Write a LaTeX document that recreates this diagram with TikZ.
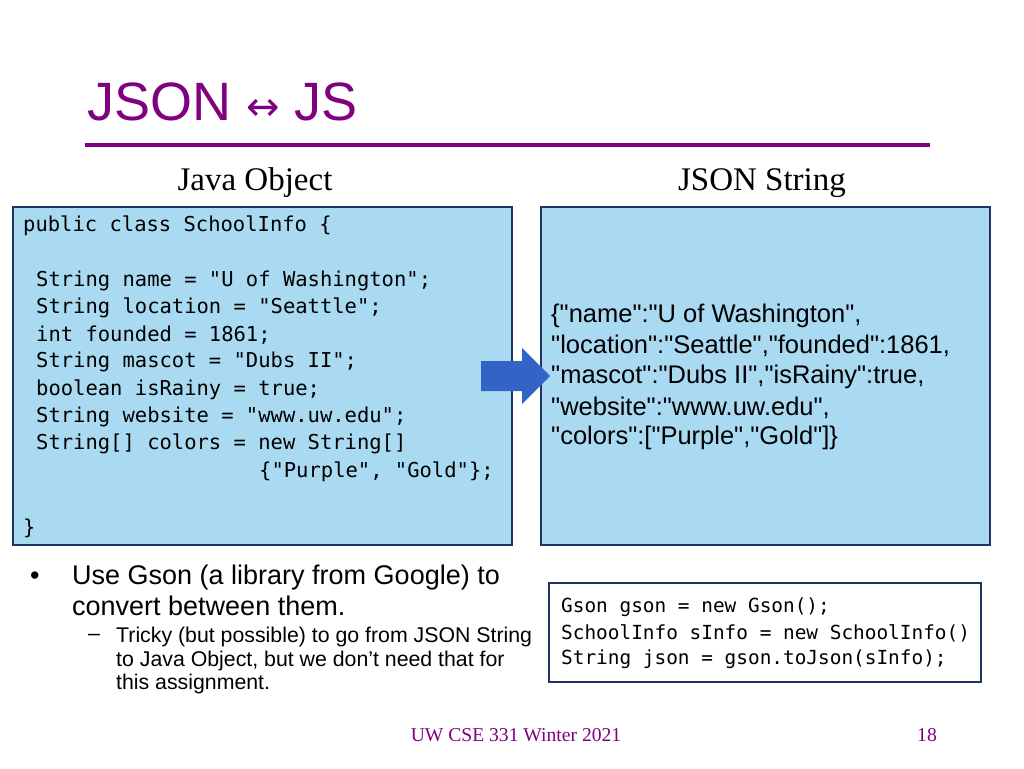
\documentclass[tikz,border=0pt]{standalone}
\usepackage{fontspec}
\setmainfont{Liberation Serif}
\setsansfont{Liberation Sans}[Ligatures=TeXOff]
\setmonofont{DejaVu Sans Mono}
\newfontfamily\symf{DejaVu Sans}
\definecolor{purp}{RGB}{128,0,128}
\definecolor{boxfill}{RGB}{170,218,242}
\definecolor{boxedge}{RGB}{30,50,100}
\definecolor{arr}{RGB}{50,100,200}
\tikzset{x=1pt,y=-1pt,
 codebox/.style={fill=boxfill,draw=boxedge,line width=2pt},
 code/.style={anchor=west,inner sep=0,font=\ttfamily\fontsize{20.5}{24}\selectfont},
 gcode/.style={anchor=west,inner sep=0,font=\ttfamily\fontsize{19.4}{23}\selectfont},
 js/.style={anchor=west,inner sep=0,font=\sffamily\fontsize{25.5}{30}\selectfont},
 bul/.style={anchor=west,inner sep=0,font=\sffamily\fontsize{27}{32}\selectfont},
 sub/.style={anchor=west,inner sep=0,font=\sffamily\fontsize{21.3}{25}\selectfont},
 foot/.style={text=purp,font=\fontsize{19.6}{23}\selectfont}}
\begin{document}
\begin{tikzpicture}
\useasboundingbox (0,0) rectangle (1024,768);
\node[anchor=west,inner sep=0,text=purp,font=\sffamily\fontsize{54}{60}\selectfont] (title) at (87,102) {JSON {\symf\fontsize{40}{44}\selectfont↔} JS};
\draw[purp,line width=3.5pt] (85,145) -- (930,145);
\node[font=\fontsize{33}{38}\selectfont] (h1) at (255,183) {Java Object};
\node[font=\fontsize{33}{38}\selectfont] (h2) at (762,183) {JSON String};
\draw[codebox] (13,207) rectangle (512,545);
\draw[codebox] (541,207) rectangle (990,545);
\node[code] (c0) at (23,226) {public class SchoolInfo \{};
\node[code] (c1) at (36,281) {String name = "U of Washington";};
\node[code] (c2) at (36,308) {String location = "Seattle";};
\node[code] (c3) at (36,335) {int founded = 1861;};
\node[code] (c4) at (36,362) {String mascot = "Dubs II";};
\node[code] (c5) at (36,390) {boolean isRainy = true;};
\node[code] (c6) at (36,417) {String website = "www.uw.edu";};
\node[code] (c7) at (36,444) {String[] colors = new String[]};
\node[code] (c8) at (259,472) {\{"Purple", "Gold"\};};
\node[code] (c9) at (23,528) {\}};
\fill[arr] (481,361) -- (522,361) -- (522,348) -- (550,376) -- (522,404) -- (522,391) -- (481,391) -- cycle;
\node[js] (j1) at (551,316) {\{"name":"U of Washington",};
\node[js] (j2) at (551,346) {"location":"Seattle","founded":1861,};
\node[js] (j3) at (551,377) {"mascot":"Dubs II","isRainy":true,};
\node[js] (j4) at (551,408) {"website":"www.uw.edu",};
\node[js] (j5) at (551,438) {"colors":["Purple","Gold"]\}};
\node[bul] (b0) at (30,578) {•};
\node[bul] (b1) at (72,578) {Use Gson (a library from Google) to};
\node[bul] (b2) at (72,606) {convert between them.};
\node[sub] (s0) at (88,637) {–};
\node[sub] (s1) at (116,637) {Tricky (but possible) to go from JSON String};
\node[sub] (s2) at (116,661) {to Java Object, but we don’t need that for};
\node[sub] (s3) at (116,684) {this assignment.};
\draw[fill=white,draw=boxedge,line width=2pt] (549,583) rectangle (981,682);
\node[gcode] (g1) at (561,607) {Gson gson = new Gson();};
\node[gcode] (g2) at (561,633) {SchoolInfo sInfo = new SchoolInfo()};
\node[gcode] (g3) at (561,659) {String json = gson.toJson(sInfo);};
\node[foot] (f1) at (516,735) {UW CSE 331 Winter 2021};
\node[foot] (f2) at (927,735) {18};
\end{tikzpicture}
\end{document}
